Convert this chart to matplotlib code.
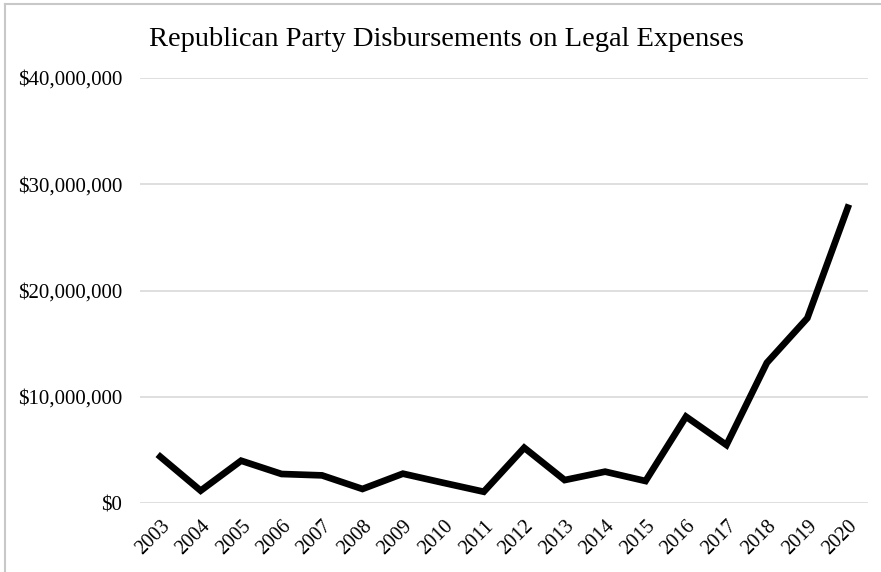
import matplotlib.pyplot as plt
from matplotlib.lines import Line2D
from matplotlib.ticker import FuncFormatter, MultipleLocator

# Data (US dollars)
years = ["2003", "2004", "2005", "2006", "2007", "2008", "2009", "2010", "2011",
         "2012", "2013", "2014", "2015", "2016", "2017", "2018", "2019", "2020"]
spending = [4.36e6, 1.16e6, 3.98e6, 2.73e6, 2.60e6, 1.32e6, 2.76e6, 1.90e6, 1.06e6,
            5.20e6, 2.16e6, 2.95e6, 2.07e6, 8.13e6, 5.46e6, 13.2e6, 17.4e6, 27.8e6]

plt.rcParams["font.family"] = ["Liberation Serif", "DejaVu Serif"]

fig = plt.figure(figsize=(8.81, 5.72), dpi=100)
ax = fig.add_axes([140 / 881, 1 - 503 / 572, 728 / 881, 425 / 572])

x = range(len(years))
ax.plot(x, spending, color="black", lw=4.8, solid_joinstyle="miter")

ax.set_xlim(-0.5, len(years) - 0.5)
ax.set_ylim(0, 40e6)
ax.yaxis.set_major_locator(MultipleLocator(10e6))
ax.yaxis.set_major_formatter(FuncFormatter(lambda v, p: f"${v:,.0f}"))
ax.grid(axis="y", color="#d9d9d9", lw=1.2)
ax.set_axisbelow(True)

ax.set_xticks(list(x))
ax.set_xticklabels(years, rotation=45, ha="right", rotation_mode="anchor")
ax.tick_params(axis="both", length=0, colors="black")
ax.tick_params(axis="y", pad=13, labelsize=15)
ax.tick_params(axis="x", pad=10, labelsize=14.5)

for s in ax.spines.values():
    s.set_visible(False)

fig.text(446 / 881, 1 - 40 / 572, "Republican Party Disbursements on Legal Expenses",
         ha="center", va="center", fontsize=20.5)

# light frame visible on the top and left edges of the reference
fig.add_artist(Line2D([5 / 881, 5 / 881], [0, 1 - 4 / 572], color="#c8c8c8", lw=1.5))
fig.add_artist(Line2D([5 / 881, 1], [1 - 4 / 572, 1 - 4 / 572], color="#c8c8c8", lw=1.5))

fig.savefig("out.png", dpi=100)
